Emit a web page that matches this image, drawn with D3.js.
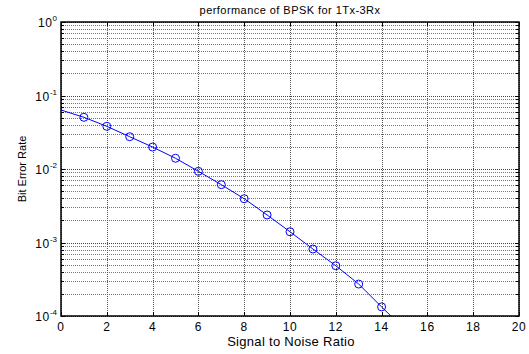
<!DOCTYPE html>
<html lang="en">
<head>
    <meta charset="UTF-8">
    <title>performance of BPSK for 1Tx-3Rx</title>
    <script src="https://d3js.org/d3.v7.min.js"></script>
    <style>
        body { margin: 0; background: #fff; }
        text { font-family: "Liberation Sans", Arial, sans-serif; }
    </style>
</head>
<body>
    <div id="chart"></div>
    <script>
        // Data
        const snr = [0, 1, 2, 3, 4, 5, 6, 7, 8, 9, 10, 11, 12, 13, 14, 15];
        const ber = [0.0635, 0.0505, 0.0381, 0.0275, 0.0199, 0.0140, 0.0093, 0.00612,
                     0.00394, 0.00237, 0.00140, 0.000816, 0.000483, 0.000272, 0.000133, 0.000066];
        const xTicks = [0, 2, 4, 6, 8, 10, 12, 14, 16, 18, 20];
        const yExponents = [0, -1, -2, -3, -4];

        const margin = { top: 22, right: 10, bottom: 38, left: 61 },
            width = 529 - margin.left - margin.right,
            height = 354 - margin.top - margin.bottom;

        const svg = d3.select("#chart")
            .append("svg")
            .attr("width", 529)
            .attr("height", 354)
            .append("g")
            .attr("transform", `translate(${margin.left}, ${margin.top})`);

        const x = d3.scaleLinear().domain([0, 20]).range([0, width]);
        const y = d3.scaleLog().domain([1e-4, 1]).range([height, 0]);

        // minor values for log grid
        const minor = [];
        for (let e = -4; e < 0; e++) {
            for (let m = 2; m <= 9; m++) minor.push(m * Math.pow(10, e));
        }
        const major = yExponents.map(e => Math.pow(10, e));

        // horizontal grid (minor + major)
        svg.append("g")
            .selectAll("line")
            .data(minor)
            .join("line")
            .attr("x1", 0).attr("x2", width)
            .attr("y1", d => Math.round(y(d)) + 0.5)
            .attr("y2", d => Math.round(y(d)) + 0.5)
            .attr("stroke", "#777")
            .attr("stroke-dasharray", "1,1");

        svg.append("g")
            .selectAll("line")
            .data(major)
            .join("line")
            .attr("x1", 0).attr("x2", width)
            .attr("y1", d => Math.round(y(d)) + 0.5)
            .attr("y2", d => Math.round(y(d)) + 0.5)
            .attr("stroke", "#444")
            .attr("stroke-dasharray", "1,1");

        // vertical grid
        svg.append("g")
            .selectAll("line")
            .data(xTicks)
            .join("line")
            .attr("x1", d => Math.round(x(d)) + 0.5)
            .attr("x2", d => Math.round(x(d)) + 0.5)
            .attr("y1", 0).attr("y2", height)
            .attr("stroke", "#555")
            .attr("stroke-dasharray", "1,1");

        // inner tick marks
        const tickLen = 4;
        const ticks = svg.append("g").attr("stroke", "#000");
        xTicks.forEach(d => {
            const px = Math.round(x(d)) + 0.5;
            ticks.append("line").attr("x1", px).attr("x2", px).attr("y1", height).attr("y2", height - tickLen);
            ticks.append("line").attr("x1", px).attr("x2", px).attr("y1", 0).attr("y2", tickLen);
        });
        minor.concat(major).forEach(d => {
            const py = Math.round(y(d)) + 0.5;
            const len = minor.includes(d) ? 3 : tickLen;
            ticks.append("line").attr("x1", 0).attr("x2", len).attr("y1", py).attr("y2", py);
            ticks.append("line").attr("x1", width).attr("x2", width - len).attr("y1", py).attr("y2", py);
        });

        // clip for data
        svg.append("clipPath").attr("id", "clip")
            .append("rect").attr("width", width).attr("height", height);

        const line = d3.line()
            .x((d, i) => x(snr[i]))
            .y(d => y(d));

        const plot = svg.append("g").attr("clip-path", "url(#clip)");
        plot.append("path")
            .datum(ber)
            .attr("fill", "none")
            .attr("stroke", "#0000ff")
            .attr("stroke-width", 1)
            .attr("d", line);

        // markers (none drawn at SNR 0 in the original)
        plot.selectAll("circle")
            .data(ber.map((v, i) => [snr[i], v]).filter(d => d[0] > 0))
            .join("circle")
            .attr("cx", d => x(d[0]))
            .attr("cy", d => y(d[1]))
            .attr("r", 4)
            .attr("fill", "none")
            .attr("stroke", "#0000ff")
            .attr("stroke-width", 1);

        // box
        svg.append("rect")
            .attr("width", width).attr("height", height)
            .attr("fill", "none")
            .attr("stroke", "#000")
            .attr("stroke-width", 1.5);

        // x tick labels
        svg.append("g")
            .selectAll("text")
            .data(xTicks)
            .join("text")
            .attr("x", d => x(d))
            .attr("y", height + 15)
            .attr("text-anchor", "middle")
            .attr("font-size", 12)
            .attr("letter-spacing", 0.6)
            .text(d => d);

        // y tick labels 10^e
        const yl = svg.append("g")
            .selectAll("text")
            .data(yExponents)
            .join("text")
            .attr("x", -4)
            .attr("y", d => y(Math.pow(10, d)) + 5)
            .attr("text-anchor", "end")
            .attr("font-size", 12)
            .attr("letter-spacing", 0.6);
        yl.append("tspan").text("10");
        yl.append("tspan").attr("dy", -6).attr("font-size", 8).attr("letter-spacing", 0).text(d => d);

        // title
        svg.append("text")
            .attr("x", width / 2)
            .attr("y", -8)
            .attr("text-anchor", "middle")
            .attr("font-size", 11)
            .attr("letter-spacing", 0.45)
            .text("performance of BPSK for 1Tx-3Rx");

        // axis labels
        svg.append("text")
            .attr("x", width / 2 + 1)
            .attr("y", height + 30)
            .attr("text-anchor", "middle")
            .attr("font-size", 13)
            .attr("letter-spacing", 0.3)
            .text("Signal to Noise Ratio");

        svg.append("text")
            .attr("transform", `translate(${-35}, ${height / 2}) rotate(-90)`)
            .attr("text-anchor", "middle")
            .attr("font-size", 11)
            .text("Bit Error Rate");
    </script>
</body>
</html>
